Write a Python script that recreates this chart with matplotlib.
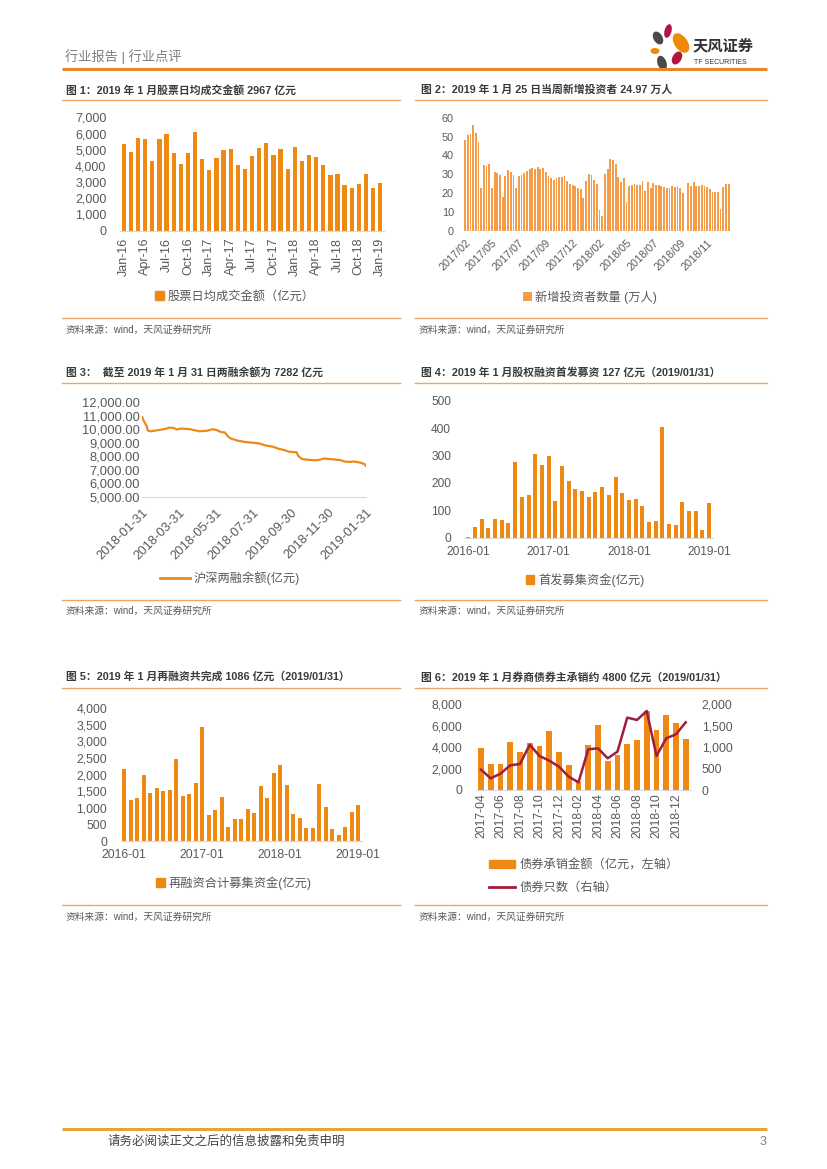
import matplotlib
matplotlib.use('Agg')
import matplotlib.pyplot as plt
from matplotlib.patches import Ellipse, Patch
from matplotlib.lines import Line2D
import datetime as dt

plt.rcParams['font.family'] = ['Liberation Sans', 'Noto Sans CJK SC', 'DejaVu Sans']

# ---------------- data ----------------
# Fig 1: monthly average daily turnover (亿元), Jan-16 .. Jan-19
turnover = [5350, 4850, 5750, 5650, 4300, 5650, 5980, 4820, 4100, 4780, 6120, 4420,
            3720, 4480, 5000, 5060, 4030, 3830, 4610, 5080, 5400, 4650, 5050, 3780,
            5190, 4280, 4660, 4540, 4040, 3460, 3510, 2850, 2620, 2890, 3530, 2660,
            2967]
turnover_ticks = ['Jan-16', 'Apr-16', 'Jul-16', 'Oct-16', 'Jan-17', 'Apr-17', 'Jul-17',
                  'Oct-17', 'Jan-18', 'Apr-18', 'Jul-18', 'Oct-18', 'Jan-19']

# Fig 2: weekly new investors (万人), 2017/02 .. 2019/01
new_investors = [48, 51, 51.5, 56, 52, 47, 23, 35, 34.4, 35.5, 23, 31, 30.5, 29.6, 18,
                 29, 32.3, 31, 29.6, 22.6, 29, 29.6, 30.5, 31.8, 32.6, 33.2, 32.6, 33.7,
                 32.8, 33.5, 31.4, 29, 27.9, 27, 27.9, 28.4, 28.8, 29, 26.5, 24.9, 24.4,
                 23.8, 22.6, 22.2, 17.6, 26.5, 30.2, 29.6, 27, 24.9, 11.1, 7.9, 30.2,
                 32.6, 38, 37.6, 35.3, 28.8, 26.1, 28.2, 15.5, 23.8, 24.4, 24.9, 24.4,
                 24.4, 26.5, 21.2, 26.1, 22.9, 25.2, 24.4, 24.2, 23.8, 23.5, 22.9, 22.9,
                 23.8, 23.1, 23.8, 22.9, 19.9, 0, 25.2, 23.8, 25.8, 23.8, 23.8, 24.4,
                 23.8, 23.1, 22.1, 20.8, 20.8, 20.8, 11.6, 23.1, 24.9, 24.97]
investor_ticks = ['2017/02', '2017/05', '2017/07', '2017/09', '2017/12', '2018/02',
                  '2018/05', '2018/07', '2018/09', '2018/11']

# Fig 3: margin balance (亿元)
margin_dates = ['2018-01-31', '2018-02-02', '2018-02-07', '2018-02-09', '2018-02-14',
                '2018-02-28', '2018-03-09', '2018-03-16', '2018-03-23', '2018-03-28',
                '2018-04-04', '2018-04-13', '2018-04-20', '2018-04-27', '2018-05-04',
                '2018-05-11', '2018-05-18', '2018-05-25', '2018-06-01', '2018-06-08',
                '2018-06-15', '2018-06-20', '2018-06-25', '2018-06-29', '2018-07-06',
                '2018-07-13', '2018-07-20', '2018-07-31', '2018-08-10', '2018-08-20',
                '2018-08-31', '2018-09-10', '2018-09-20', '2018-09-28', '2018-10-10',
                '2018-10-12', '2018-10-18', '2018-10-26', '2018-11-02', '2018-11-09',
                '2018-11-16', '2018-11-23', '2018-11-30', '2018-12-07', '2018-12-14',
                '2018-12-21', '2018-12-28', '2019-01-04', '2019-01-11', '2019-01-18',
                '2019-01-25', '2019-01-29', '2019-01-31']
margin_values = [10900, 10650, 10250, 9900, 9850, 9950, 10020, 10120, 10100, 9980,
                 10050, 10030, 10000, 9920, 9850, 9870, 9900, 10000, 9950, 9800,
                 9760, 9450, 9300, 9250, 9150, 9100, 9040, 9000, 8950, 8800,
                 8720, 8560, 8450, 8330, 8290, 8050, 7800, 7750, 7720, 7700,
                 7730, 7830, 7800, 7780, 7740, 7700, 7600, 7580, 7610, 7560,
                 7480, 7400, 7282]
margin_ticks = ['2018-01-31', '2018-03-31', '2018-05-31', '2018-07-31', '2018-09-30',
                '2018-11-30', '2019-01-31']

# Fig 4: IPO funds raised (亿元), 2016-01 .. 2019-01
ipo = [2, 38, 69, 35, 67, 63, 54, 277, 150, 155, 305, 264,
       299, 133, 262, 207, 176, 172, 148, 167, 185, 156, 221, 162,
       136, 141, 116, 56, 61, 404, 50, 46, 130, 97, 96, 27,
       127]
# Fig 5: refinancing funds raised (亿元), 2016-01 .. 2019-01
refin = [2171, 1226, 1287, 1990, 1457, 1588, 1498, 1538, 2472, 1347, 1407, 1739,
         3427, 784, 925, 1327, 432, 673, 653, 955, 834, 1668, 1287, 2060,
         2281, 1678, 804, 683, 392, 392, 1719, 1035, 352, 171, 412, 884,
         1086]
year_ticks = ['2016-01', '2017-01', '2018-01', '2019-01']

# Fig 6: bond underwriting, 2017-04 .. 2019-01
bond_months = ['2017-04', '2017-05', '2017-06', '2017-07', '2017-08', '2017-09',
               '2017-10', '2017-11', '2017-12', '2018-01', '2018-02', '2018-03',
               '2018-04', '2018-05', '2018-06', '2018-07', '2018-08', '2018-09',
               '2018-10', '2018-11', '2018-12', '2019-01']
bond_amount = [3890, 2430, 2430, 4510, 3580, 4360, 4080, 5540, 3550, 2340, 720, 4230,
               6070, 2740, 3240, 4300, 4640, 7380, 5600, 7040, 6260, 4800]
bond_count = [475, 272, 381, 576, 607, 1058, 794, 685, 545, 311, 179, 949,
              973, 739, 895, 1689, 1634, 1844, 794, 1206, 1300, 1580]

# ---------------- styling ----------------
ORANGE = '#EE8A14'
ORANGE2 = '#F39C4A'
LINE_OR = '#EFA463'
GRAY_T = '#595959'
TITLE_C = '#3A3A3A'
W, H = 827, 1169

fig = plt.figure(figsize=(W / 100, H / 100), dpi=100)
bg = fig.add_axes([0, 0, 1, 1])
bg.set_xlim(0, W)
bg.set_ylim(H, 0)
bg.axis('off')


def add_ax(left, top, width, height):
    return fig.add_axes([left / W, 1 - (top + height) / H, width / W, height / H])


def style(ax, fs, ypad, xpad):
    for s in ['top', 'right', 'left']:
        ax.spines[s].set_visible(False)
    ax.spines['bottom'].set_color('#D9D9D9')
    ax.spines['bottom'].set_linewidth(0.8)
    ax.tick_params(length=0, labelsize=fs, colors=GRAY_T)
    ax.tick_params(axis='y', pad=ypad)
    ax.tick_params(axis='x', pad=xpad)


def legend_at(handles, labels, cx, cy, **kw):
    opts = dict(loc='center', bbox_to_anchor=(cx / W, 1 - cy / H), frameon=False,
                fontsize=8.8, handletextpad=0.3, borderpad=0, borderaxespad=0)
    opts.update(kw)
    leg = fig.legend(handles, labels, **opts)
    for t in leg.get_texts():
        t.set_color(GRAY_T)
    return leg


# ---------------- page header / footer ----------------
bg.text(65, 57, '行业报告 | 行业点评', fontsize=9.5, color='#7F7F7F', va='center', ha='left')
bg.plot([62, 767], [69, 69], color='#E8872A', lw=2.2, solid_capstyle='butt')
petals = [((658, 38), 9, 14, -30, '#4A4A4A'),
          ((668, 31), 7, 14, 15, '#B0163F'),
          ((681, 43), 13, 22, -35, '#F08A00'),
          ((655, 51), 9, 6, 0, '#F08A00'),
          ((677, 58), 9, 14, 30, '#B0163F'),
          ((662, 63), 9, 15, -20, '#4A4A4A')]
for (xy, w, h, ang, c) in petals:
    bg.add_patch(Ellipse(xy, w, h, angle=ang, color=c, lw=0))
bg.text(693, 46, '天风证券', fontsize=11, fontweight='bold', color='#333333', va='center', ha='left')
bg.text(694, 63, 'TF SECURITIES', fontsize=5, color='#333333', va='center', ha='left')

bg.plot([62, 767], [1129, 1129], color='#E8A23A', lw=2.2, solid_capstyle='butt')
bg.text(107, 1142, '请务必阅读正文之后的信息披露和免责申明', fontsize=9, color='#444444', va='center', ha='left')
bg.text(766, 1142, '3', fontsize=9, color='#7F7F7F', va='center', ha='right')

# ---------------- section frames ----------------
titles = [
    (66, 90, '图 1：2019 年 1 月股票日均成交金额 2967 亿元'),
    (421, 90, '图 2：2019 年 1 月 25 日当周新增投资者 24.97 万人'),
    (66, 372, '图 3：  截至 2019 年 1 月 31 日两融余额为 7282 亿元'),
    (421, 372, '图 4：2019 年 1 月股权融资首发募资 127 亿元（2019/01/31）'),
    (66, 677, '图 5：2019 年 1 月再融资共完成 1086 亿元（2019/01/31）'),
    (421, 677, '图 6：2019 年 1 月券商债券主承销约 4800 亿元（2019/01/31）'),
]
for x, y, t in titles:
    bg.text(x, y, t, fontsize=7.8, fontweight='bold', color=TITLE_C, va='center', ha='left')

for (y_top, y_bot, y_src) in [(100, 318, 330), (383, 600, 611), (688, 905, 917)]:
    for (x0, x1) in [(62, 400), (415, 767)]:
        bg.plot([x0, x1], [y_top, y_top], color=LINE_OR, lw=1.0)
        bg.plot([x0, x1], [y_bot, y_bot], color=LINE_OR, lw=1.0)
        bg.text(x0 + 4, y_src, '资料来源：wind，天风证券研究所', fontsize=7, color=GRAY_T,
                va='center', ha='left')

# ---------------- Fig 1 ----------------
ax1 = add_ax(120.3, 117.3, 263.5, 113.4)
ax1.bar(range(len(turnover)), turnover, width=0.6, color=ORANGE)
ax1.set_xlim(-0.5, len(turnover) - 0.5)
ax1.set_ylim(0, 7000)
ax1.set_yticks(range(0, 7001, 1000))
ax1.set_yticklabels([f'{v:,}' for v in range(0, 7001, 1000)])
ax1.set_xticks(range(0, len(turnover), 3))
ax1.set_xticklabels(turnover_ticks, rotation=90)
style(ax1, 9, 10, 5)
legend_at([Patch(color=ORANGE)], ['股票日均成交金额（亿元）'], 235, 297,
          handlelength=0.7, handleheight=0.7)

# ---------------- Fig 2 ----------------
ax2 = add_ax(463.7, 117.7, 266.3, 113.3)
ax2.bar(range(len(new_investors)), new_investors, width=0.68, color=ORANGE2, linewidth=0)
ax2.set_xlim(-0.5, len(new_investors) - 0.5)
ax2.set_ylim(0, 60)
ax2.set_yticks(range(0, 61, 10))
ax2.set_xticks(range(0, 10 * len(investor_ticks), 10))
ax2.set_xticklabels(investor_ticks, rotation=45, ha='right', rotation_mode='anchor')
style(ax2, 7.8, 7, 5)
ax2.spines['bottom'].set_visible(False)
legend_at([Patch(facecolor=ORANGE2)], ['新增投资者数量 (万人)'],
          590, 297, handlelength=0.7, handleheight=0.7)

# ---------------- Fig 3 ----------------
ax3 = add_ax(142.3, 402.3, 223.7, 94.4)
md = [dt.datetime.strptime(d, '%Y-%m-%d') for d in margin_dates]
ax3.plot(md, margin_values, color='#EE8A1A', lw=1.6)
ax3.set_xlim(md[0], md[-1])
ax3.set_ylim(5000, 12000)
ax3.set_yticks(range(5000, 12001, 1000))
ax3.set_yticklabels([f'{v:,.2f}' for v in range(5000, 12001, 1000)])
tk = [dt.datetime.strptime(d, '%Y-%m-%d') for d in margin_ticks]
ax3.set_xticks(tk)
ax3.set_xticklabels(margin_ticks, rotation=45, ha='right', rotation_mode='anchor')
style(ax3, 9.3, 1.5, 7)
legend_at([Line2D([], [], color='#EE8A1A', lw=2)], ['沪深两融余额(亿元)'], 230, 578,
          handlelength=2.4)

# ---------------- Fig 4 ----------------
ax4 = add_ax(465.0, 400.7, 247.5, 137.0)
ax4.bar(range(len(ipo)), ipo, width=0.6, color=ORANGE)
ax4.set_xlim(-0.5, len(ipo) - 0.5)
ax4.set_ylim(0, 500)
ax4.set_yticks(range(0, 501, 100))
ax4.set_xticks(range(0, len(ipo), 12))
ax4.set_xticklabels(year_ticks)
style(ax4, 8.6, 10, 6)
legend_at([Patch(color=ORANGE)], ['首发募集资金(亿元)'], 585, 580,
          handlelength=0.7, handleheight=0.7)

# ---------------- Fig 5 ----------------
ax5 = add_ax(121.0, 708.3, 240.5, 132.7)
ax5.bar(range(len(refin)), refin, width=0.6, color=ORANGE)
ax5.set_xlim(-0.5, len(refin) - 0.5)
ax5.set_ylim(0, 4000)
ax5.set_yticks(range(0, 4001, 500))
ax5.set_yticklabels([f'{v:,}' for v in range(0, 4001, 500)])
ax5.set_xticks(range(0, len(refin), 12))
ax5.set_xticklabels(year_ticks)
style(ax5, 8.8, 10, 6)
legend_at([Patch(color=ORANGE)], ['再融资合计募集资金(亿元)'], 234, 883,
          handlelength=0.7, handleheight=0.7)

# ---------------- Fig 6 ----------------
ax6 = add_ax(476.1, 704.3, 214.5, 85.7)
ax6.bar(range(len(bond_amount)), bond_amount, width=0.6, color=ORANGE)
ax6.set_xlim(-0.5, len(bond_amount) - 0.5)
ax6.set_ylim(0, 8000)
ax6.set_yticks(range(0, 8001, 2000))
ax6.set_yticklabels([f'{v:,}' for v in range(0, 8001, 2000)])
ax6.set_xticks(range(0, len(bond_months), 2))
ax6.set_xticklabels(bond_months[::2], rotation=90)
style(ax6, 8.8, 10, 2.5)
ax6r = ax6.twinx()
ax6r.plot(range(len(bond_count)), bond_count, color='#A21C3C', lw=1.8)
ax6r.set_ylim(0, 2000)
ax6r.set_yticks(range(0, 2001, 500))
ax6r.set_yticklabels([f'{v:,}' for v in range(0, 2001, 500)])
for s in ['top', 'right', 'left', 'bottom']:
    ax6r.spines[s].set_visible(False)
ax6r.tick_params(length=0, labelsize=8.8, colors=GRAY_T, pad=8)
legend_at([Patch(color=ORANGE), Line2D([], [], color='#A21C3C', lw=2)],
          ['债券承销金额（亿元，左轴）', '债券只数（右轴）'], 489, 876.5, loc='center left',
          handlelength=2.1, handleheight=0.55, labelspacing=0.85, handletextpad=0.4)

fig.savefig('out.png', dpi=100, facecolor='white')
